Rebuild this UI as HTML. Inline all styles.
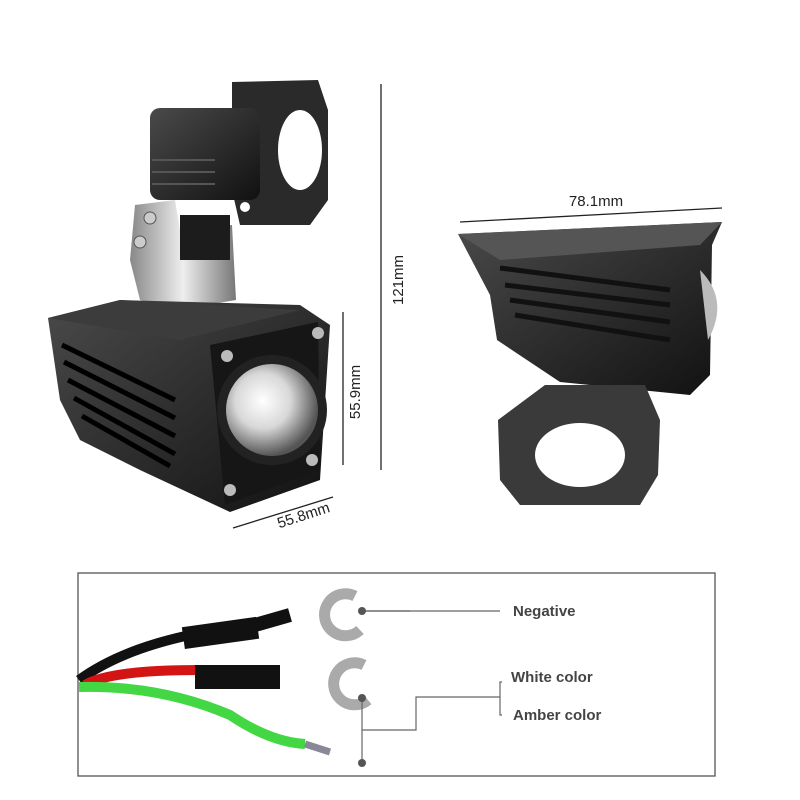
<!DOCTYPE html>
<html><head><meta charset="utf-8"><style>
html,body{margin:0;padding:0;background:#fff;}
svg{display:block}
text{font-family:"Liberation Sans",sans-serif;}
</style></head><body>
<svg width="800" height="800" viewBox="0 0 800 800" xmlns="http://www.w3.org/2000/svg">
<defs>
<linearGradient id="dk" x1="0" y1="0" x2="1" y2="1"><stop offset="0" stop-color="#4a4a4a"/><stop offset="1" stop-color="#111"/></linearGradient>
<radialGradient id="lens" cx="0.4" cy="0.4" r="0.6"><stop offset="0" stop-color="#fff"/><stop offset="0.5" stop-color="#d8d8d8"/><stop offset="1" stop-color="#555"/></radialGradient>
<linearGradient id="chrome" x1="0" y1="0" x2="1" y2="0"><stop offset="0" stop-color="#888"/><stop offset="0.5" stop-color="#eee"/><stop offset="1" stop-color="#777"/></linearGradient>
</defs>
<rect width="800" height="800" fill="#fff"/>

<path d="M232,82 L318,80 L328,110 L328,200 L310,225 L240,225 L232,190 Z" fill="#2a2a2a"/>
<rect x="150" y="108" width="110" height="92" rx="10" fill="url(#dk)"/>
<ellipse cx="300" cy="150" rx="22" ry="40" fill="#fff"/>
<g stroke="#555" stroke-width="2"><line x1="152" y1="160" x2="215" y2="160"/><line x1="152" y1="172" x2="215" y2="172"/><line x1="152" y1="184" x2="215" y2="184"/></g>
<circle cx="245" cy="207" r="5" fill="#fff"/>
<path d="M135,205 L175,200 L180,230 L232,225 L236,300 L175,310 L140,300 L130,260 Z" fill="url(#chrome)"/>
<rect x="180" y="215" width="50" height="45" fill="#1c1c1c"/>
<circle cx="150" cy="218" r="6" fill="#ccc" stroke="#555"/><circle cx="140" cy="242" r="6" fill="#ccc" stroke="#555"/>
<path d="M48,318 L120,300 L300,305 L330,325 L320,480 L230,512 L140,470 L80,440 L60,400 Z" fill="url(#dk)"/>
<path d="M48,318 L180,340 L300,310 L120,300 Z" fill="#3c3c3c"/>
<g stroke="#000" stroke-width="5"><line x1="62" y1="345" x2="175" y2="400"/><line x1="64" y1="362" x2="175" y2="418"/><line x1="68" y1="380" x2="175" y2="436"/><line x1="74" y1="398" x2="175" y2="454"/><line x1="82" y1="416" x2="170" y2="466"/></g>
<path d="M210,345 L318,322 L320,470 L225,505 Z" fill="#161616"/>
<circle cx="272" cy="410" r="55" fill="#222"/>
<circle cx="272" cy="410" r="46" fill="url(#lens)"/>
<g fill="#bbb"><circle cx="227" cy="356" r="6"/><circle cx="318" cy="333" r="6"/><circle cx="312" cy="460" r="6"/><circle cx="230" cy="490" r="6"/></g>

<path d="M458,234 L722,222 L712,245 L710,375 L690,395 L560,382 L497,340 L490,295 Z" fill="url(#dk)"/>
<path d="M458,234 L722,222 L700,245 L500,260 Z" fill="#555"/>
<g stroke="#111" stroke-width="5"><line x1="500" y1="268" x2="670" y2="290"/><line x1="505" y1="285" x2="670" y2="305"/><line x1="510" y1="300" x2="670" y2="322"/><line x1="515" y1="315" x2="670" y2="340"/></g>
<path d="M700,270 Q730,300 708,340 Z" fill="#bbb"/>
<path d="M545,385 L645,385 L660,420 L658,475 L640,505 L520,505 L500,480 L498,420 Z" fill="#3a3a3a"/>
<ellipse cx="580" cy="455" rx="45" ry="32" fill="#fff"/>

<g stroke="#222" stroke-width="1.3" fill="none">
<line x1="381" y1="84" x2="381" y2="470"/>
<line x1="343" y1="312" x2="343" y2="465"/>
<line x1="233" y1="528" x2="333" y2="497"/>
<line x1="460" y1="222" x2="722" y2="208"/>
</g>
<g fill="#222" font-size="15">
<text x="596" y="206" text-anchor="middle">78.1mm</text>
<text transform="translate(403,280) rotate(-90)" text-anchor="middle">121mm</text>
<text transform="translate(360,392) rotate(-90)" text-anchor="middle">55.9mm</text>
<text transform="translate(305,520) rotate(-18)" text-anchor="middle">55.8mm</text>
</g>

<rect x="78" y="573" width="637" height="203" fill="#fff" stroke="#555" stroke-width="1.3"/>
<path d="M79,680 Q120,650 190,635 L260,625" stroke="#111" stroke-width="10" fill="none"/>
<rect x="183" y="622" width="75" height="22" fill="#111" transform="rotate(-8 220 633)"/>
<path d="M255,625 L290,615" stroke="#111" stroke-width="14"/>
<path d="M85,685 Q110,670 200,670" stroke="#d31414" stroke-width="10" fill="none"/>
<rect x="195" y="665" width="85" height="24" fill="#111"/>
<path d="M79,687 Q160,685 230,715 Q270,742 305,744" stroke="#43d843" stroke-width="10" fill="none"/>
<path d="M305,744 L330,752" stroke="#889" stroke-width="7"/>
<path d="M355,596 A21,21 0 1,0 360,630" stroke="#aaa" stroke-width="11" fill="none"/>
<path d="M364,665 A21,21 0 1,0 368,700" stroke="#aaa" stroke-width="11" fill="none"/>
<g stroke="#666" stroke-width="1.2" fill="none">
<line x1="362" y1="611" x2="410" y2="611"/>
<line x1="362" y1="611" x2="500" y2="611"/>
<polyline points="362,698 362,762"/>
<polyline points="362,730 416,730 416,697 500,697"/>
<polyline points="502,682 500,682 500,715 502,715"/>
</g>
<g fill="#555"><circle cx="362" cy="611" r="4"/><circle cx="362" cy="698" r="4"/><circle cx="362" cy="763" r="4"/></g>
<g fill="#444" font-size="15" font-weight="bold">
<text x="513" y="616">Negative</text>
<text x="511" y="682">White color</text>
<text x="513" y="720">Amber color</text>
</g>
</svg>
</body></html>
